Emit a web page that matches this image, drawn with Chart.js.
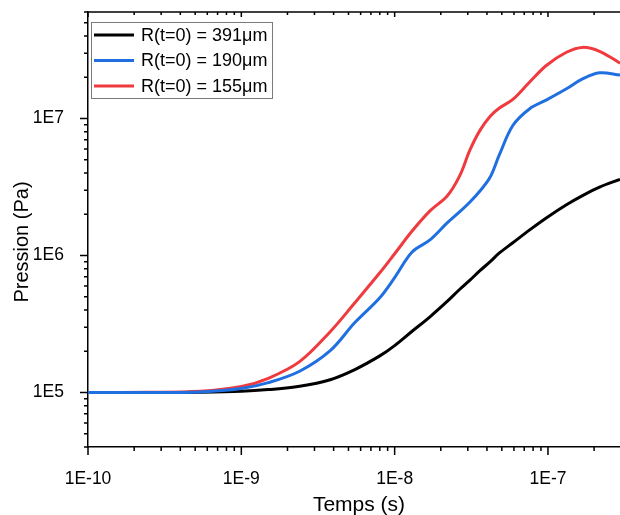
<!DOCTYPE html>
<html>
<head>
<meta charset="utf-8">
<title>Pression</title>
<script src="https://cdn.jsdelivr.net/npm/chart.js@4.4.0/dist/chart.umd.min.js"></script>
<style>
  html, body { margin: 0; padding: 0; background: #fff; }
  #grafico { display: block; }
</style>
</head>
<body>
<canvas id="grafico" width="620" height="515"></canvas>
<script>
// Données (temps en s, pression en Pa)
const temps = [1e-10, 2.5e-10, 5.4e-10, 1e-9, 1.5e-9, 2.4e-9, 3.8e-9, 5.5e-9, 8e-9, 1e-8,
    1.3e-8, 1.7e-8, 2.2e-8, 2.65e-8, 3.1e-8, 3.6e-8, 4.2e-8, 4.8e-8, 5.9e-8, 7.6e-8,
    9.8e-8, 1.32e-7, 1.68e-7, 2.17e-7, 2.95e-7];

const pression391 = [1e5, 1e5, 1.005e5, 1.02e5, 1.05e5, 1.11e5, 1.24e5, 1.47e5, 1.85e5, 2.20e5,
    2.80e5, 3.57e5, 4.62e5, 5.65e5, 6.62e5, 7.75e5, 9.02e5, 1.04e6, 1.24e6, 1.54e6,
    1.89e6, 2.35e6, 2.74e6, 3.16e6, 3.60e6];

const pression190 = [1e5, 1e5, 1.01e5, 1.07e5, 1.18e5, 1.43e5, 2.02e5, 3.24e5, 4.92e5, 6.9e5,
    1.06e6, 1.30e6, 1.73e6, 2.08e6, 2.46e6, 2.96e6, 3.74e6, 5.38e6, 8.9e6, 1.18e7,
    1.37e7, 1.65e7, 1.95e7, 2.16e7, 2.08e7];

const pression155 = [1e5, 1.003e5, 1.02e5, 1.105e5, 1.27e5, 1.68e5, 2.78e5, 4.52e5, 7.48e5, 1.03e6,
    1.51e6, 2.12e6, 2.72e6, 3.8e6, 5.9e6, 8.2e6, 1.04e7, 1.19e7, 1.38e7, 1.85e7,
    2.45e7, 3.05e7, 3.31e7, 3.1e7, 2.54e7];

const legendes = ['R(t=0) = 391\u03bcm', 'R(t=0) = 190\u03bcm', 'R(t=0) = 155\u03bcm'];
const couleurs = ['#000000', '#1f6fe0', '#ef3b3f'];

const xMin = 1e-10, xMax = 2.95e-7;
const yMin = 4e4, yMax = 6e7;

const police = '"Liberation Sans", Arial, sans-serif';
Chart.defaults.font.family = police;

function points(ys){
    return temps.map((t, i) => ({ x: t, y: ys[i] }));
}

// graduations d'un axe log : 1..9 x 10^n
function graduations(min, max){
    const liste = [];
    for(let d = Math.floor(Math.log10(min)); d <= Math.ceil(Math.log10(max)); d++){
        for(let k = 1; k <= 9; k++){
            const v = k * Math.pow(10, d);
            if(v >= min * (1 - 1e-9) && v <= max * (1 + 1e-9)){
                liste.push({ v: v, major: k === 1 });
            }
        }
    }
    return liste;
}

function etiquette(v){
    const e = Math.log10(v);
    if(Math.abs(e - Math.round(e)) < 1e-6){
        return '1E' + Math.round(e);
    }
    return null;
}

// Cadre façon Origin : graduations, axe du haut, légende et titres
const cadre = {
    id: 'cadre',
    afterDraw(chart){
        const ctx = chart.ctx;
        const area = chart.chartArea;
        const sx = chart.scales.x;
        const sy = chart.scales.y;
        ctx.save();
        ctx.strokeStyle = '#000';
        ctx.lineWidth = 1.5;

        ctx.beginPath();
        ctx.moveTo(area.left, area.top);
        ctx.lineTo(area.right, area.top);
        ctx.stroke();

        ctx.beginPath();
        graduations(sx.min, sx.max).forEach(g => {
            const px = sx.getPixelForValue(g.v);
            ctx.moveTo(px, area.bottom);
            ctx.lineTo(px, area.bottom + (g.major ? 8 : 4));
            ctx.moveTo(px, area.top);
            ctx.lineTo(px, area.top + (g.major ? 5 : 3));
        });
        graduations(sy.min, sy.max).forEach(g => {
            const py = sy.getPixelForValue(g.v);
            ctx.moveTo(area.left, py);
            ctx.lineTo(area.left - (g.major ? 8 : 4), py);
        });
        ctx.stroke();

        // légende
        ctx.fillStyle = '#fff';
        ctx.fillRect(91, 22, 182, 77);
        ctx.strokeStyle = '#7a7a7a';
        ctx.lineWidth = 1;
        ctx.strokeRect(91.5, 22.5, 181, 76);
        ctx.font = '18px ' + police;
        ctx.textBaseline = 'middle';
        ctx.textAlign = 'left';
        legendes.forEach((txt, i) => {
            const y = 35 + i * 25.5;
            ctx.strokeStyle = couleurs[i];
            ctx.lineWidth = 3;
            ctx.beginPath();
            ctx.moveTo(94, y);
            ctx.lineTo(134, y);
            ctx.stroke();
            ctx.fillStyle = '#000';
            ctx.fillText(txt, 141, y + 1);
        });

        // titres des axes
        ctx.fillStyle = '#000';
        ctx.textAlign = 'center';
        ctx.font = '21px ' + police;
        ctx.fillText('Temps (s)', 359, 505);
        ctx.translate(22, 242);
        ctx.rotate(-Math.PI / 2);
        ctx.font = '20px ' + police;
        ctx.fillText('Pression (Pa)', 0, 0);
        ctx.restore();
    }
};

const ctx = document.getElementById('grafico').getContext('2d');
const series = [pression391, pression190, pression155];
const ordre = [2, 0, 1];

new Chart(ctx, {
    type: 'line',
    data: {
        datasets: series.map((ys, i) => ({
            label: legendes[i],
            data: points(ys),
            borderColor: couleurs[i],
            borderWidth: 3,
            pointRadius: 0,
            pointHoverRadius: 0,
            pointBorderWidth: 0,
            fill: false,
            tension: 0.35,
            order: ordre[i]
        }))
    },
    options: {
        responsive: false,
        animation: false,
        layout: { padding: { top: 12, right: 0, left: 0, bottom: 0 }, autoPadding: false },
        plugins: {
            legend: { display: false },
            tooltip: { enabled: false }
        },
        scales: {
            x: {
                type: 'logarithmic',
                min: xMin,
                max: xMax,
                grid: { display: false },
                border: { display: true, color: '#000', width: 1.5 },
                ticks: {
                    autoSkip: false,
                    maxRotation: 0,
                    padding: 14,
                    color: '#000',
                    font: { size: 17.5 },
                    callback: v => etiquette(v)
                },
                afterFit: s => { s.height = 68; s.paddingLeft = 0; s.paddingRight = 0; }
            },
            y: {
                type: 'logarithmic',
                min: yMin,
                max: yMax,
                grid: { display: false },
                border: { display: true, color: '#000', width: 1.5 },
                ticks: {
                    autoSkip: false,
                    padding: 16,
                    color: '#000',
                    font: { size: 17.5 },
                    callback: v => etiquette(v)
                },
                afterFit: s => { s.width = 88; s.paddingTop = 0; s.paddingBottom = 0; }
            }
        }
    },
    plugins: [cadre]
});
</script>
</body>
</html>
